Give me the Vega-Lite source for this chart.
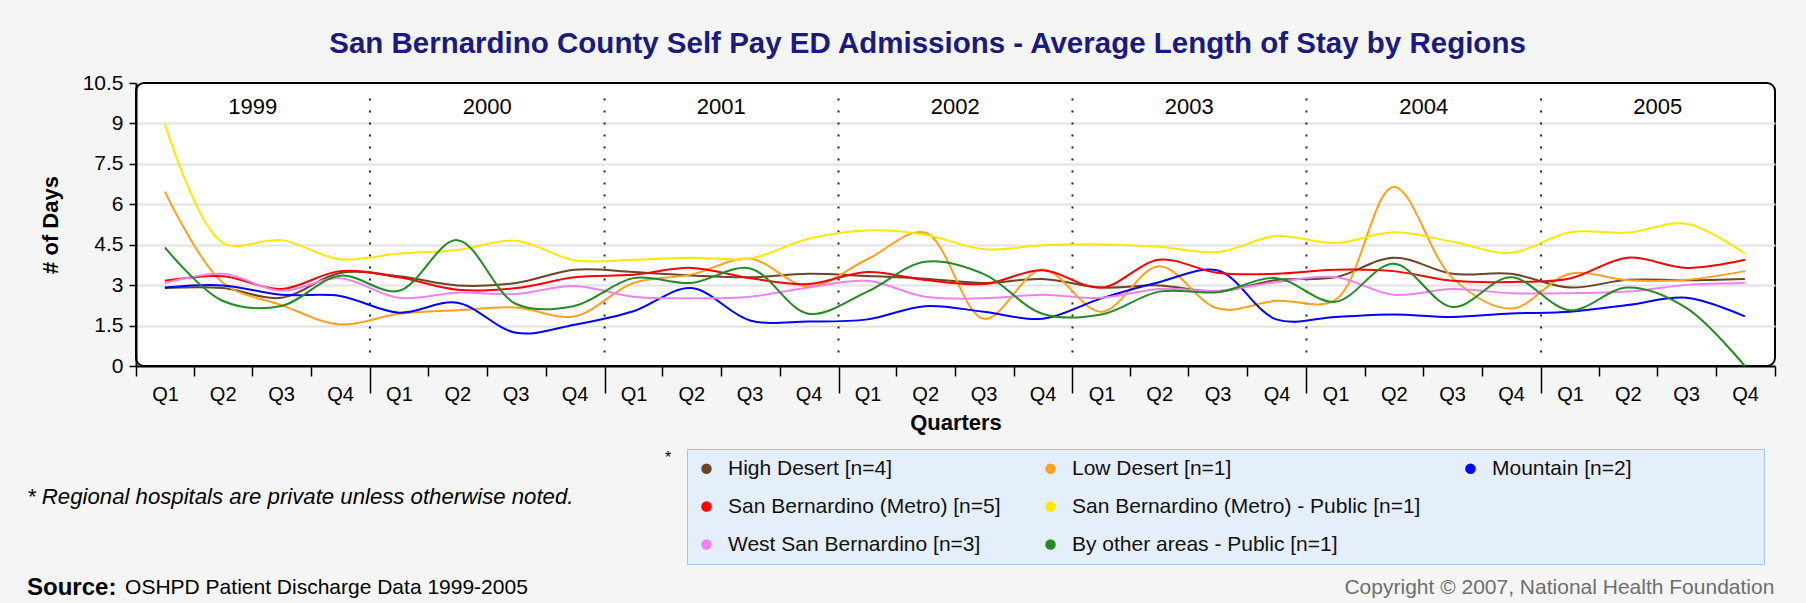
{
  "$schema": "https://vega.github.io/schema/vega-lite/v6.json",
  "autosize": "none",
  "padding": {"left": 136, "top": 83, "right": 31, "bottom": 237},
  "width": 1639,
  "height": 283,
  "background": "#f5f5f5",
  "title": {
    "text": "San Bernardino County Self Pay ED Admissions - Average Length of Stay by Regions",
    "font": "Liberation Sans", "fontSize": 29.5, "fontWeight": "bold", "color": "#1b1b7d",
    "anchor": "middle", "frame": "group", "dx": -28, "offset": 13
  },
  "config": {
    "font": "Liberation Sans",
    "view": {"stroke": "#000", "strokeWidth": 2, "fill": "#ffffff", "cornerRadius": 8}
  },
  "datasets": {
    "los": [
      {"region": "High Desert [n=4]", "quarter": "1999-02-15", "days": 2.89},
      {"region": "High Desert [n=4]", "quarter": "1999-05-16", "days": 2.89},
      {"region": "High Desert [n=4]", "quarter": "1999-08-16", "days": 2.53},
      {"region": "High Desert [n=4]", "quarter": "1999-11-15", "days": 3.45},
      {"region": "High Desert [n=4]", "quarter": "2000-02-15", "days": 3.33},
      {"region": "High Desert [n=4]", "quarter": "2000-05-16", "days": 2.99},
      {"region": "High Desert [n=4]", "quarter": "2000-08-16", "days": 3.08},
      {"region": "High Desert [n=4]", "quarter": "2000-11-15", "days": 3.57},
      {"region": "High Desert [n=4]", "quarter": "2001-02-15", "days": 3.49},
      {"region": "High Desert [n=4]", "quarter": "2001-05-16", "days": 3.36},
      {"region": "High Desert [n=4]", "quarter": "2001-08-16", "days": 3.29},
      {"region": "High Desert [n=4]", "quarter": "2001-11-15", "days": 3.42},
      {"region": "High Desert [n=4]", "quarter": "2002-02-15", "days": 3.34},
      {"region": "High Desert [n=4]", "quarter": "2002-05-16", "days": 3.24},
      {"region": "High Desert [n=4]", "quarter": "2002-08-16", "days": 3.08},
      {"region": "High Desert [n=4]", "quarter": "2002-11-15", "days": 3.23},
      {"region": "High Desert [n=4]", "quarter": "2003-02-15", "days": 2.91},
      {"region": "High Desert [n=4]", "quarter": "2003-05-16", "days": 2.99},
      {"region": "High Desert [n=4]", "quarter": "2003-08-16", "days": 2.76},
      {"region": "High Desert [n=4]", "quarter": "2003-11-15", "days": 3.19},
      {"region": "High Desert [n=4]", "quarter": "2004-02-15", "days": 3.29},
      {"region": "High Desert [n=4]", "quarter": "2004-05-16", "days": 4.02},
      {"region": "High Desert [n=4]", "quarter": "2004-08-16", "days": 3.42},
      {"region": "High Desert [n=4]", "quarter": "2004-11-15", "days": 3.42},
      {"region": "High Desert [n=4]", "quarter": "2005-02-15", "days": 2.91},
      {"region": "High Desert [n=4]", "quarter": "2005-05-16", "days": 3.2},
      {"region": "High Desert [n=4]", "quarter": "2005-08-16", "days": 3.18},
      {"region": "High Desert [n=4]", "quarter": "2005-11-15", "days": 3.23},

      {"region": "Low Desert [n=1]", "quarter": "1999-02-15", "days": 6.47},
      {"region": "Low Desert [n=1]", "quarter": "1999-05-16", "days": 3.1},
      {"region": "Low Desert [n=1]", "quarter": "1999-08-16", "days": 2.26},
      {"region": "Low Desert [n=1]", "quarter": "1999-11-15", "days": 1.54},
      {"region": "Low Desert [n=1]", "quarter": "2000-02-15", "days": 1.94},
      {"region": "Low Desert [n=1]", "quarter": "2000-05-16", "days": 2.07},
      {"region": "Low Desert [n=1]", "quarter": "2000-08-16", "days": 2.17},
      {"region": "Low Desert [n=1]", "quarter": "2000-11-15", "days": 1.84},
      {"region": "Low Desert [n=1]", "quarter": "2001-02-15", "days": 3.08},
      {"region": "Low Desert [n=1]", "quarter": "2001-05-16", "days": 3.39},
      {"region": "Low Desert [n=1]", "quarter": "2001-08-16", "days": 3.98},
      {"region": "Low Desert [n=1]", "quarter": "2001-11-15", "days": 2.95},
      {"region": "Low Desert [n=1]", "quarter": "2002-02-15", "days": 3.96},
      {"region": "Low Desert [n=1]", "quarter": "2002-05-16", "days": 4.95},
      {"region": "Low Desert [n=1]", "quarter": "2002-08-16", "days": 1.75},
      {"region": "Low Desert [n=1]", "quarter": "2002-11-15", "days": 3.58},
      {"region": "Low Desert [n=1]", "quarter": "2003-02-15", "days": 2.01},
      {"region": "Low Desert [n=1]", "quarter": "2003-05-16", "days": 3.7},
      {"region": "Low Desert [n=1]", "quarter": "2003-08-16", "days": 2.13},
      {"region": "Low Desert [n=1]", "quarter": "2003-11-15", "days": 2.42},
      {"region": "Low Desert [n=1]", "quarter": "2004-02-15", "days": 2.45},
      {"region": "Low Desert [n=1]", "quarter": "2004-05-16", "days": 6.64},
      {"region": "Low Desert [n=1]", "quarter": "2004-08-16", "days": 3.26},
      {"region": "Low Desert [n=1]", "quarter": "2004-11-15", "days": 2.13},
      {"region": "Low Desert [n=1]", "quarter": "2005-02-15", "days": 3.42},
      {"region": "Low Desert [n=1]", "quarter": "2005-05-16", "days": 3.18},
      {"region": "Low Desert [n=1]", "quarter": "2005-08-16", "days": 3.2},
      {"region": "Low Desert [n=1]", "quarter": "2005-11-15", "days": 3.52},

      {"region": "Mountain [n=2]", "quarter": "1999-02-15", "days": 2.91},
      {"region": "Mountain [n=2]", "quarter": "1999-05-16", "days": 2.99},
      {"region": "Mountain [n=2]", "quarter": "1999-08-16", "days": 2.64},
      {"region": "Mountain [n=2]", "quarter": "1999-11-15", "days": 2.6},
      {"region": "Mountain [n=2]", "quarter": "2000-02-15", "days": 1.98},
      {"region": "Mountain [n=2]", "quarter": "2000-05-16", "days": 2.35},
      {"region": "Mountain [n=2]", "quarter": "2000-08-16", "days": 1.23},
      {"region": "Mountain [n=2]", "quarter": "2000-11-15", "days": 1.53},
      {"region": "Mountain [n=2]", "quarter": "2001-02-15", "days": 2.03},
      {"region": "Mountain [n=2]", "quarter": "2001-05-16", "days": 2.89},
      {"region": "Mountain [n=2]", "quarter": "2001-08-16", "days": 1.69},
      {"region": "Mountain [n=2]", "quarter": "2001-11-15", "days": 1.65},
      {"region": "Mountain [n=2]", "quarter": "2002-02-15", "days": 1.73},
      {"region": "Mountain [n=2]", "quarter": "2002-05-16", "days": 2.22},
      {"region": "Mountain [n=2]", "quarter": "2002-08-16", "days": 2.01},
      {"region": "Mountain [n=2]", "quarter": "2002-11-15", "days": 1.75},
      {"region": "Mountain [n=2]", "quarter": "2003-02-15", "days": 2.51},
      {"region": "Mountain [n=2]", "quarter": "2003-05-16", "days": 3.11},
      {"region": "Mountain [n=2]", "quarter": "2003-08-16", "days": 3.54},
      {"region": "Mountain [n=2]", "quarter": "2003-11-15", "days": 1.73},
      {"region": "Mountain [n=2]", "quarter": "2004-02-15", "days": 1.82},
      {"region": "Mountain [n=2]", "quarter": "2004-05-16", "days": 1.91},
      {"region": "Mountain [n=2]", "quarter": "2004-08-16", "days": 1.82},
      {"region": "Mountain [n=2]", "quarter": "2004-11-15", "days": 1.95},
      {"region": "Mountain [n=2]", "quarter": "2005-02-15", "days": 2.01},
      {"region": "Mountain [n=2]", "quarter": "2005-05-16", "days": 2.26},
      {"region": "Mountain [n=2]", "quarter": "2005-08-16", "days": 2.53},
      {"region": "Mountain [n=2]", "quarter": "2005-11-15", "days": 1.84},

      {"region": "San Bernardino (Metro) [n=5]", "quarter": "1999-02-15", "days": 3.16},
      {"region": "San Bernardino (Metro) [n=5]", "quarter": "1999-05-16", "days": 3.33},
      {"region": "San Bernardino (Metro) [n=5]", "quarter": "1999-08-16", "days": 2.86},
      {"region": "San Bernardino (Metro) [n=5]", "quarter": "1999-11-15", "days": 3.52},
      {"region": "San Bernardino (Metro) [n=5]", "quarter": "2000-02-15", "days": 3.29},
      {"region": "San Bernardino (Metro) [n=5]", "quarter": "2000-05-16", "days": 2.83},
      {"region": "San Bernardino (Metro) [n=5]", "quarter": "2000-08-16", "days": 2.89},
      {"region": "San Bernardino (Metro) [n=5]", "quarter": "2000-11-15", "days": 3.29},
      {"region": "San Bernardino (Metro) [n=5]", "quarter": "2001-02-15", "days": 3.39},
      {"region": "San Bernardino (Metro) [n=5]", "quarter": "2001-05-16", "days": 3.64},
      {"region": "San Bernardino (Metro) [n=5]", "quarter": "2001-08-16", "days": 3.26},
      {"region": "San Bernardino (Metro) [n=5]", "quarter": "2001-11-15", "days": 3.04},
      {"region": "San Bernardino (Metro) [n=5]", "quarter": "2002-02-15", "days": 3.49},
      {"region": "San Bernardino (Metro) [n=5]", "quarter": "2002-05-16", "days": 3.19},
      {"region": "San Bernardino (Metro) [n=5]", "quarter": "2002-08-16", "days": 3.04},
      {"region": "San Bernardino (Metro) [n=5]", "quarter": "2002-11-15", "days": 3.55},
      {"region": "San Bernardino (Metro) [n=5]", "quarter": "2003-02-15", "days": 2.91},
      {"region": "San Bernardino (Metro) [n=5]", "quarter": "2003-05-16", "days": 3.94},
      {"region": "San Bernardino (Metro) [n=5]", "quarter": "2003-08-16", "days": 3.45},
      {"region": "San Bernardino (Metro) [n=5]", "quarter": "2003-11-15", "days": 3.42},
      {"region": "San Bernardino (Metro) [n=5]", "quarter": "2004-02-15", "days": 3.57},
      {"region": "San Bernardino (Metro) [n=5]", "quarter": "2004-05-16", "days": 3.52},
      {"region": "San Bernardino (Metro) [n=5]", "quarter": "2004-08-16", "days": 3.16},
      {"region": "San Bernardino (Metro) [n=5]", "quarter": "2004-11-15", "days": 3.12},
      {"region": "San Bernardino (Metro) [n=5]", "quarter": "2005-02-15", "days": 3.25},
      {"region": "San Bernardino (Metro) [n=5]", "quarter": "2005-05-16", "days": 4.02},
      {"region": "San Bernardino (Metro) [n=5]", "quarter": "2005-08-16", "days": 3.64},
      {"region": "San Bernardino (Metro) [n=5]", "quarter": "2005-11-15", "days": 3.94},

      {"region": "San Bernardino (Metro) - Public [n=1]", "quarter": "1999-02-15", "days": 9.0},
      {"region": "San Bernardino (Metro) - Public [n=1]", "quarter": "1999-05-16", "days": 4.58},
      {"region": "San Bernardino (Metro) - Public [n=1]", "quarter": "1999-08-16", "days": 4.67},
      {"region": "San Bernardino (Metro) - Public [n=1]", "quarter": "1999-11-15", "days": 3.96},
      {"region": "San Bernardino (Metro) - Public [n=1]", "quarter": "2000-02-15", "days": 4.17},
      {"region": "San Bernardino (Metro) - Public [n=1]", "quarter": "2000-05-16", "days": 4.3},
      {"region": "San Bernardino (Metro) - Public [n=1]", "quarter": "2000-08-16", "days": 4.65},
      {"region": "San Bernardino (Metro) - Public [n=1]", "quarter": "2000-11-15", "days": 3.92},
      {"region": "San Bernardino (Metro) - Public [n=1]", "quarter": "2001-02-15", "days": 3.94},
      {"region": "San Bernardino (Metro) - Public [n=1]", "quarter": "2001-05-16", "days": 4.02},
      {"region": "San Bernardino (Metro) - Public [n=1]", "quarter": "2001-08-16", "days": 3.99},
      {"region": "San Bernardino (Metro) - Public [n=1]", "quarter": "2001-11-15", "days": 4.72},
      {"region": "San Bernardino (Metro) - Public [n=1]", "quarter": "2002-02-15", "days": 5.03},
      {"region": "San Bernardino (Metro) - Public [n=1]", "quarter": "2002-05-16", "days": 4.87},
      {"region": "San Bernardino (Metro) - Public [n=1]", "quarter": "2002-08-16", "days": 4.33},
      {"region": "San Bernardino (Metro) - Public [n=1]", "quarter": "2002-11-15", "days": 4.48},
      {"region": "San Bernardino (Metro) - Public [n=1]", "quarter": "2003-02-15", "days": 4.51},
      {"region": "San Bernardino (Metro) - Public [n=1]", "quarter": "2003-05-16", "days": 4.42},
      {"region": "San Bernardino (Metro) - Public [n=1]", "quarter": "2003-08-16", "days": 4.23},
      {"region": "San Bernardino (Metro) - Public [n=1]", "quarter": "2003-11-15", "days": 4.82},
      {"region": "San Bernardino (Metro) - Public [n=1]", "quarter": "2004-02-15", "days": 4.56},
      {"region": "San Bernardino (Metro) - Public [n=1]", "quarter": "2004-05-16", "days": 4.96},
      {"region": "San Bernardino (Metro) - Public [n=1]", "quarter": "2004-08-16", "days": 4.61},
      {"region": "San Bernardino (Metro) - Public [n=1]", "quarter": "2004-11-15", "days": 4.2},
      {"region": "San Bernardino (Metro) - Public [n=1]", "quarter": "2005-02-15", "days": 4.96},
      {"region": "San Bernardino (Metro) - Public [n=1]", "quarter": "2005-05-16", "days": 4.95},
      {"region": "San Bernardino (Metro) - Public [n=1]", "quarter": "2005-08-16", "days": 5.28},
      {"region": "San Bernardino (Metro) - Public [n=1]", "quarter": "2005-11-15", "days": 4.17},

      {"region": "West San Bernardino [n=3]", "quarter": "1999-02-15", "days": 3.08},
      {"region": "West San Bernardino [n=3]", "quarter": "1999-05-16", "days": 3.42},
      {"region": "West San Bernardino [n=3]", "quarter": "1999-08-16", "days": 2.79},
      {"region": "West San Bernardino [n=3]", "quarter": "1999-11-15", "days": 3.26},
      {"region": "West San Bernardino [n=3]", "quarter": "2000-02-15", "days": 2.53},
      {"region": "West San Bernardino [n=3]", "quarter": "2000-05-16", "days": 2.72},
      {"region": "West San Bernardino [n=3]", "quarter": "2000-08-16", "days": 2.67},
      {"region": "West San Bernardino [n=3]", "quarter": "2000-11-15", "days": 2.97},
      {"region": "West San Bernardino [n=3]", "quarter": "2001-02-15", "days": 2.57},
      {"region": "West San Bernardino [n=3]", "quarter": "2001-05-16", "days": 2.51},
      {"region": "West San Bernardino [n=3]", "quarter": "2001-08-16", "days": 2.57},
      {"region": "West San Bernardino [n=3]", "quarter": "2001-11-15", "days": 2.91},
      {"region": "West San Bernardino [n=3]", "quarter": "2002-02-15", "days": 3.16},
      {"region": "West San Bernardino [n=3]", "quarter": "2002-05-16", "days": 2.57},
      {"region": "West San Bernardino [n=3]", "quarter": "2002-08-16", "days": 2.51},
      {"region": "West San Bernardino [n=3]", "quarter": "2002-11-15", "days": 2.64},
      {"region": "West San Bernardino [n=3]", "quarter": "2003-02-15", "days": 2.53},
      {"region": "West San Bernardino [n=3]", "quarter": "2003-05-16", "days": 2.86},
      {"region": "West San Bernardino [n=3]", "quarter": "2003-08-16", "days": 2.79},
      {"region": "West San Bernardino [n=3]", "quarter": "2003-11-15", "days": 3.11},
      {"region": "West San Bernardino [n=3]", "quarter": "2004-02-15", "days": 3.3},
      {"region": "West San Bernardino [n=3]", "quarter": "2004-05-16", "days": 2.64},
      {"region": "West San Bernardino [n=3]", "quarter": "2004-08-16", "days": 2.86},
      {"region": "West San Bernardino [n=3]", "quarter": "2004-11-15", "days": 2.7},
      {"region": "West San Bernardino [n=3]", "quarter": "2005-02-15", "days": 2.7},
      {"region": "West San Bernardino [n=3]", "quarter": "2005-05-16", "days": 2.76},
      {"region": "West San Bernardino [n=3]", "quarter": "2005-08-16", "days": 3.01},
      {"region": "West San Bernardino [n=3]", "quarter": "2005-11-15", "days": 3.08},

      {"region": "By other areas - Public [n=1]", "quarter": "1999-02-15", "days": 4.4},
      {"region": "By other areas - Public [n=1]", "quarter": "1999-05-16", "days": 2.42},
      {"region": "By other areas - Public [n=1]", "quarter": "1999-08-16", "days": 2.23},
      {"region": "By other areas - Public [n=1]", "quarter": "1999-11-15", "days": 3.35},
      {"region": "By other areas - Public [n=1]", "quarter": "2000-02-15", "days": 2.79},
      {"region": "By other areas - Public [n=1]", "quarter": "2000-05-16", "days": 4.67},
      {"region": "By other areas - Public [n=1]", "quarter": "2000-08-16", "days": 2.3},
      {"region": "By other areas - Public [n=1]", "quarter": "2000-11-15", "days": 2.23},
      {"region": "By other areas - Public [n=1]", "quarter": "2001-02-15", "days": 3.26},
      {"region": "By other areas - Public [n=1]", "quarter": "2001-05-16", "days": 3.08},
      {"region": "By other areas - Public [n=1]", "quarter": "2001-08-16", "days": 3.62},
      {"region": "By other areas - Public [n=1]", "quarter": "2001-11-15", "days": 1.94},
      {"region": "By other areas - Public [n=1]", "quarter": "2002-02-15", "days": 2.76},
      {"region": "By other areas - Public [n=1]", "quarter": "2002-05-16", "days": 3.87},
      {"region": "By other areas - Public [n=1]", "quarter": "2002-08-16", "days": 3.41},
      {"region": "By other areas - Public [n=1]", "quarter": "2002-11-15", "days": 1.94},
      {"region": "By other areas - Public [n=1]", "quarter": "2003-02-15", "days": 1.91},
      {"region": "By other areas - Public [n=1]", "quarter": "2003-05-16", "days": 2.76},
      {"region": "By other areas - Public [n=1]", "quarter": "2003-08-16", "days": 2.74},
      {"region": "By other areas - Public [n=1]", "quarter": "2003-11-15", "days": 3.26},
      {"region": "By other areas - Public [n=1]", "quarter": "2004-02-15", "days": 2.38},
      {"region": "By other areas - Public [n=1]", "quarter": "2004-05-16", "days": 3.79},
      {"region": "By other areas - Public [n=1]", "quarter": "2004-08-16", "days": 2.19},
      {"region": "By other areas - Public [n=1]", "quarter": "2004-11-15", "days": 3.29},
      {"region": "By other areas - Public [n=1]", "quarter": "2005-02-15", "days": 2.07},
      {"region": "By other areas - Public [n=1]", "quarter": "2005-05-16", "days": 2.91},
      {"region": "By other areas - Public [n=1]", "quarter": "2005-08-16", "days": 2.15},
      {"region": "By other areas - Public [n=1]", "quarter": "2005-11-15", "days": 0}
    ],
    "years": [
      {"year": "1999", "mid": "1999-07-02", "start": "1999-01-01"},
      {"year": "2000", "mid": "2000-07-02", "start": "2000-01-01"},
      {"year": "2001", "mid": "2001-07-02", "start": "2001-01-01"},
      {"year": "2002", "mid": "2002-07-02", "start": "2002-01-01"},
      {"year": "2003", "mid": "2003-07-02", "start": "2003-01-01"},
      {"year": "2004", "mid": "2004-07-02", "start": "2004-01-01"},
      {"year": "2005", "mid": "2005-07-02", "start": "2005-01-01"}
    ],
    "notes": [
      {"footnote": "* Regional hospitals are private unless otherwise noted.", "star": "*", "source": "Source:", "sourceText": "OSHPD Patient Discharge Data 1999-2005", "copyright": "Copyright © 2007, National Health Foundation"}
    ]
  },
  "layer": [
    {
      "data": {"name": "years"},
      "transform": [{"filter": "datum.year !== '1999'"}],
      "mark": {"type": "rule", "color": "#222222", "strokeWidth": 2, "strokeDash": [2, 10]},
      "encoding": {
        "x": {"field": "start", "type": "temporal", "scale": {"domain": [{"year": 1999, "month": 1, "date": 1}, {"year": 2006, "month": 1, "date": 1}]},
          "axis": {
            "orient": "bottom", "title": "Quarters", "grid": false,
            "tickCount": {"interval": "month", "step": 3},
            "labelExpr": "year(datum.value) >= 2006 ? '' : 'Q' + (floor(month(datum.value) / 3) + 1)",
            "labelOffset": 29, "labelFlush": false, "labelOverlap": false, "labelBound": false,
            "labelFont": "Liberation Sans", "labelFontSize": 20, "labelColor": "#000",
            "labelPadding": {"condition": {"test": "month(datum.value) === 0 && year(datum.value) > 1999 && year(datum.value) < 2006", "value": -9}, "value": 8},
            "domainColor": "#000", "domainWidth": 2, "tickColor": "#000", "tickWidth": 1.5,
            "tickSize": {"condition": {"test": "month(datum.value) === 0 && year(datum.value) > 1999 && year(datum.value) < 2006", "value": 27}, "value": 10},
            "titleFont": "Liberation Sans", "titleFontSize": 22, "titleFontWeight": "bold", "titleColor": "#000", "titlePadding": 8
          }},
        "y": {"datum": 0.5, "type": "quantitative", "scale": {"domain": [0, 10.5], "nice": false, "zero": true},
          "axis": {
            "title": "# of Days", "values": [0, 1.5, 3, 4.5, 6, 7.5, 9, 10.5], "format": ".3~g",
            "labelFont": "Liberation Sans", "labelFontSize": 21, "labelColor": "#000", "labelPadding": 6,
            "domainColor": "#000", "domainWidth": 2, "tickColor": "#000", "tickSize": 7, "tickWidth": 1.5,
            "grid": true, "gridColor": "#e2e2e2", "gridWidth": 2,
            "gridOpacity": {"condition": {"test": "datum.value >= 10.5 || datum.value <= 0", "value": 0}, "value": 1},
            "titleFont": "Liberation Sans", "titleFontSize": 22, "titleFontWeight": "bold", "titleColor": "#000", "titlePadding": 20
          }},
        "y2": {"datum": 10.05}
      }
    },
    {
      "data": {"name": "los"},
      "mark": {"type": "line", "interpolate": "catmull-rom", "strokeWidth": 2},
      "encoding": {
        "x": {"field": "quarter", "type": "temporal"},
        "y": {"field": "days", "type": "quantitative"},
        "color": {
          "field": "region", "type": "nominal",
          "scale": {
            "domain": ["High Desert [n=4]", "San Bernardino (Metro) [n=5]", "West San Bernardino [n=3]", "Low Desert [n=1]", "San Bernardino (Metro) - Public [n=1]", "By other areas - Public [n=1]", "Mountain [n=2]", "blank"],
            "range": ["#6b4526", "#ff0000", "#ee82ee", "#ffa01e", "#ffe800", "#228b22", "#0000ff", "transparent"]
          },
          "legend": {
            "orient": "none", "legendX": 551, "legendY": 366, "columns": 3, "title": null,
            "symbolType": "circle", "symbolSize": 110, "symbolStrokeWidth": 0,
            "labelFont": "Liberation Sans", "labelFontSize": 21, "labelColor": "#111111", "labelLimit": 600, "labelOffset": 11,
            "rowPadding": 16, "columnPadding": 39, "padding": 9,
            "fillColor": "#e5eefb", "strokeColor": "#a6c2e8",
            "labelExpr": "datum.value === 'blank' ? 'MMMMMMMMMMMMMMM' : datum.label",
            "encode": {
              "symbols": {"update": {"fill": {"signal": "scale('color', datum.value)"}, "opacity": {"value": 1}}},
              "labels": {"update": {"fill": {"signal": "datum.value === 'blank' ? 'transparent' : '#111111'"}}}
            }
          }
        }
      }
    },
    {
      "data": {"name": "years"},
      "mark": {"type": "text", "font": "Liberation Sans", "fontSize": 22, "color": "#000", "baseline": "middle", "align": "center"},
      "encoding": {
        "x": {"field": "mid", "type": "temporal"},
        "y": {"datum": 9.6, "type": "quantitative"},
        "text": {"field": "year"}
      }
    },
    {
      "data": {"name": "notes"},
      "mark": {"type": "text", "font": "Liberation Sans", "fontSize": 22.2, "fontStyle": "italic", "color": "#000", "align": "left", "baseline": "middle"},
      "encoding": {
        "x": {"datum": {"year": 1998, "month": 7, "date": 15}, "type": "temporal"},
        "y": {"datum": -4.86, "type": "quantitative"},
        "text": {"field": "footnote"}
      }
    },
    {
      "data": {"name": "notes"},
      "mark": {"type": "text", "font": "Liberation Sans", "fontSize": 16, "color": "#000", "align": "center", "baseline": "middle"},
      "encoding": {
        "x": {"datum": {"year": 2001, "month": 4, "date": 10}, "type": "temporal"},
        "y": {"datum": -3.41, "type": "quantitative"},
        "text": {"field": "star"}
      }
    },
    {
      "data": {"name": "notes"},
      "mark": {"type": "text", "font": "Liberation Sans", "fontSize": 24, "fontWeight": "bold", "color": "#000", "align": "left", "baseline": "middle"},
      "encoding": {
        "x": {"datum": {"year": 1998, "month": 7, "date": 15}, "type": "temporal"},
        "y": {"datum": -8.24, "type": "quantitative"},
        "text": {"field": "source"}
      }
    },
    {
      "data": {"name": "notes"},
      "mark": {"type": "text", "font": "Liberation Sans", "fontSize": 21, "color": "#000", "align": "left", "baseline": "middle"},
      "encoding": {
        "x": {"datum": {"year": 1998, "month": 12, "date": 15}, "type": "temporal"},
        "y": {"datum": -8.24, "type": "quantitative"},
        "text": {"field": "sourceText"}
      }
    },
    {
      "data": {"name": "notes"},
      "mark": {"type": "text", "font": "Liberation Sans", "fontSize": 21, "color": "#6e6e6e", "align": "right", "baseline": "middle"},
      "encoding": {
        "x": {"datum": {"year": 2005, "month": 12, "date": 31}, "type": "temporal"},
        "y": {"datum": -8.24, "type": "quantitative"},
        "text": {"field": "copyright"}
      }
    }
  ]
}
